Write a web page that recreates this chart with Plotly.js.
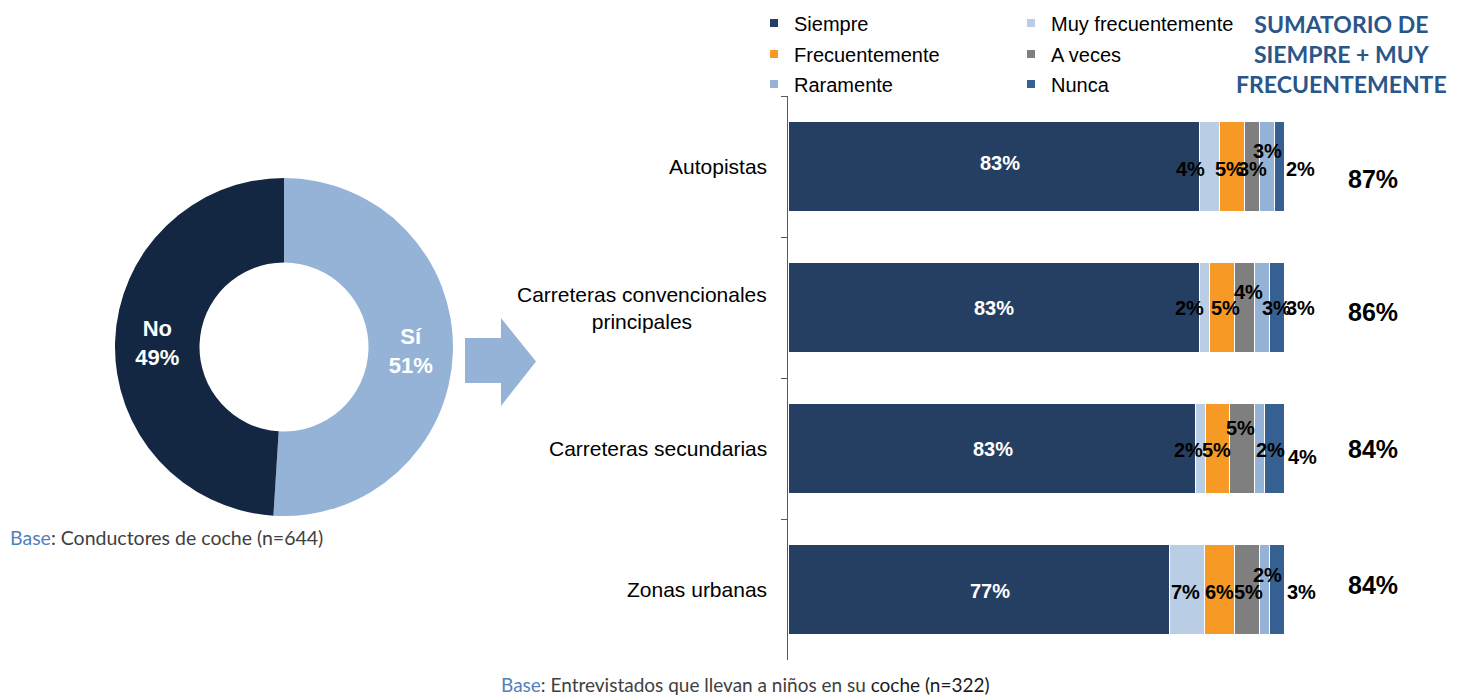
<!DOCTYPE html>
<html><head><meta charset="utf-8">
<script src="https://cdn.plot.ly/plotly-3.0.1.min.js"></script>
<style>html,body{margin:0;padding:0;background:#fff;}</style>
</head><body>
<div id="chart" style="width:1462px;height:697px"></div>
<script>
// ---------- DATA ----------
const categories = ['Autopistas', 'Carreteras convencionales principales', 'Carreteras secundarias', 'Zonas urbanas'];
const categoryLabels = ['Autopistas', 'Carreteras convencionales<br>principales', 'Carreteras secundarias', 'Zonas urbanas'];
const seriesNames = ['Siempre', 'Muy frecuentemente', 'Frecuentemente', 'A veces', 'Raramente', 'Nunca'];
const siempre = [83, 83, 83, 77];
const muyFrecuentemente = [4, 2, 2, 7];
const frecuentemente = [5, 5, 5, 6];
const aVeces = [3, 4, 5, 5];
const raramente = [3, 3, 2, 2];
const nunca = [2, 3, 4, 3];
const sumatorio = [87, 86, 84, 84];
const sumTitle = 'SUMATORIO DE<br>SIEMPRE + MUY<br>FRECUENTEMENTE';
const pieLabels = ['Sí', 'No'];
const pieValues = [51, 49];
const baseLeft = '<span style="color:#4F81BD">Base</span>: Conductores de coche (n=644)';
const baseRight = '<span style="color:#4F81BD">Base</span>: Entrevistados que llevan a niños en su <span style="color:#1a1a1a">coche (n=322)</span>';

// ---------- STYLE ----------
const seriesValues = [siempre, muyFrecuentemente, frecuentemente, aVeces, raramente, nunca];
const colors = ['#253F62', '#B9CDE5', '#F79A25', '#7F7F7F', '#95B3D7', '#366092'];
// label pixel offsets [row][series] (dx right, dy up)
const labelDx = [[6, -19, -2, 1, 1, 21], [0, -15, 3, 4, 15, 24], [1, -12, -1, -2, 11, 28], [11, -2, 0, 2, 3, 25]];
const labelDy = [[3, -3, -3, -3, 15, -3], [0, 0, 0, 16, 0, 0], [0, -1, -1, 21, -1, -8], [-1, -2, -2, -2, 15, -2]];
const sumDy = [-13, -4, 0, 5];
const legendPos = [[754, 23], [1011, 23], [754, 54], [1011, 54], [754, 84], [1011, 84]];

const W = 1462, H = 697;
const px = v => v / W, py = v => 1 - v / H;
const FONT = 'Liberation Sans, Arial, sans-serif';

const traces = [];
seriesValues.forEach((vals, i) => {
  traces.push({
    type: 'bar', orientation: 'h', x: vals, y: categories, name: seriesNames[i],
    marker: {color: colors[i], line: {color: '#ffffff', width: 1}},
    showlegend: false, hoverinfo: 'skip', xaxis: 'x', yaxis: 'y'
  });
});
seriesValues.forEach((vals, i) => {
  traces.push({
    type: 'scatter', mode: 'markers', x: [null], y: [null], name: seriesNames[i],
    marker: {symbol: 'square', size: 8, color: colors[i]},
    legend: i === 0 ? 'legend' : 'legend' + (i + 1), showlegend: true, hoverinfo: 'skip'
  });
});
traces.push({
  type: 'pie', labels: pieLabels, values: pieValues, hole: 0.5, sort: false,
  direction: 'clockwise', rotation: 0,
  marker: {colors: ['#95B3D7', '#132742'], line: {width: 0}},
  texttemplate: '<b>%{label}<br>%{value}%</b>', textposition: 'inside',
  insidetextorientation: 'horizontal',
  textfont: {color: '#ffffff', size: 22, family: FONT},
  domain: {x: [px(115), px(453)], y: [py(516), py(178)]},
  showlegend: false, hoverinfo: 'skip'
});

const annotations = [];
categories.forEach((cat, r) => {
  const total = seriesValues.reduce((s, a) => s + a[r], 0);
  let cum = 0;
  seriesValues.forEach((vals, i) => {
    const v = vals[r] / total * 100;
    annotations.push({
      x: cum + v / 2, y: cat, xref: 'x', yref: 'y', text: '<b>' + vals[r] + '%</b>',
      showarrow: false, xshift: labelDx[r][i], yshift: labelDy[r][i],
      font: {family: FONT, size: 20, color: i === 0 ? '#ffffff' : '#000000'}
    });
    cum += v;
  });
  annotations.push({
    x: px(769), xref: 'paper', xanchor: 'right', y: cat, yref: 'y', align: 'center',
    text: categoryLabels[r], showarrow: false, font: {family: FONT, size: 21, color: '#000'}
  });
  annotations.push({
    x: px(1373), xref: 'paper', xanchor: 'center', y: cat, yref: 'y', yshift: sumDy[r],
    text: '<b>' + sumatorio[r] + '%</b>', showarrow: false, font: {family: FONT, size: 25, color: '#000'}
  });
});
annotations.push({
  x: px(1341), y: py(54), xref: 'paper', yref: 'paper', xanchor: 'center', yanchor: 'middle',
  align: 'center', text: '<b>' + sumTitle + '</b>', showarrow: false,
  font: {family: 'Lato, sans-serif', size: 23, color: '#2A5689'}
});
annotations.push({
  x: px(8), y: py(537), xref: 'paper', yref: 'paper', xanchor: 'left', yanchor: 'middle',
  text: baseLeft, showarrow: false, font: {family: 'Lato, sans-serif', size: 19.5, color: '#404040'}
});
annotations.push({
  x: px(499), y: py(684), xref: 'paper', yref: 'paper', xanchor: 'left', yanchor: 'middle',
  text: baseRight, showarrow: false, font: {family: 'Lato, sans-serif', size: 19, color: '#404040'}
});

const arrowPts = [[465, 338], [501, 338], [501, 318], [536, 361.5], [501, 406], [501, 383], [465, 383]];
const arrowPath = 'M ' + arrowPts.map(p => px(p[0]) + ',' + py(p[1])).join(' L ') + ' Z';

const layout = {
  width: W, height: H, margin: {l: 0, r: 0, t: 0, b: 0},
  paper_bgcolor: '#ffffff', plot_bgcolor: 'rgba(0,0,0,0)',
  barmode: 'stack', barnorm: 'percent', bargap: 0.36,
  font: {family: FONT, color: '#000'},
  xaxis: {domain: [px(788), px(1284)], range: [0, 100], visible: false, fixedrange: true},
  yaxis: {
    domain: [py(660), py(96)], type: 'category', categoryorder: 'array', categoryarray: categories,
    autorange: 'reversed', showline: true, linecolor: '#595959', linewidth: 1,
    ticks: 'outside', ticklen: 6, tickcolor: '#595959', tickson: 'boundaries',
    showticklabels: false, showgrid: false, zeroline: false, fixedrange: true
  },
  annotations: annotations,
  shapes: [{type: 'path', xref: 'paper', yref: 'paper', path: arrowPath, fillcolor: '#95B3D7', line: {width: 0}, layer: 'above'}]
};
legendPos.forEach((p, i) => {
  layout[i === 0 ? 'legend' : 'legend' + (i + 1)] = {
    x: px(p[0]), xanchor: 'left', y: py(p[1]), yanchor: 'middle',
    bgcolor: 'rgba(0,0,0,0)', borderwidth: 0, itemclick: false, itemdoubleclick: false,
    font: {family: FONT, size: 20, color: '#000'}
  };
});

Plotly.newPlot('chart', traces, layout, {displayModeBar: false, staticPlot: true});
</script>
</body></html>
